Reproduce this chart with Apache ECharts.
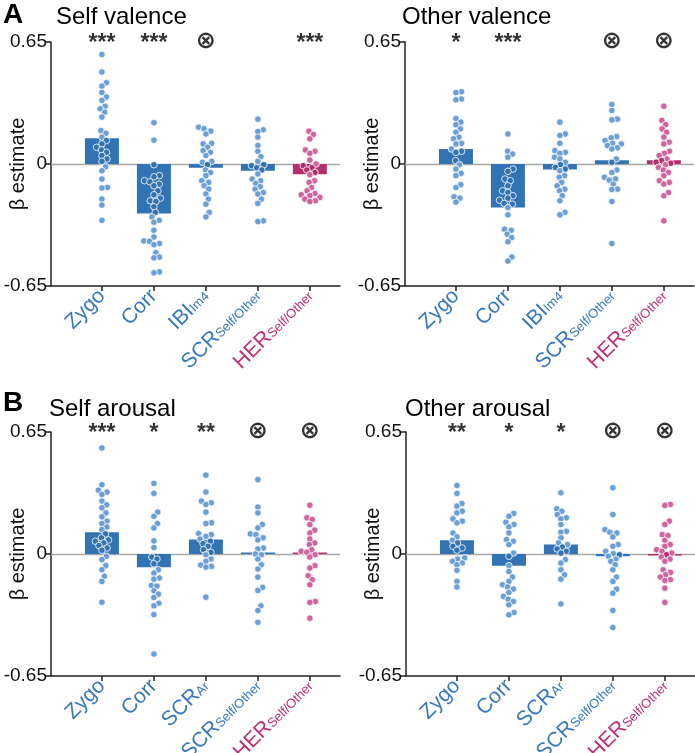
<!DOCTYPE html>
<html><head><meta charset="utf-8">
<script src="https://cdn.jsdelivr.net/npm/echarts@6/dist/echarts.min.js"></script>
<style>html,body{margin:0;padding:0;background:#fff}#c{width:695px;height:753px}</style>
</head><body><div id="c"></div>
<script>
// ---------------- DATA ----------------
const categoriesValence = ['Zygo', 'Corr', 'IBI_Im4', 'SCR_Self/Other', 'HER_Self/Other'];
const categoriesArousal = ['Zygo', 'Corr', 'SCR_Ar', 'SCR_Self/Other', 'HER_Self/Other'];
const yTicks = [-0.65, 0, 0.65];

const selfValenceMeans = [0.137, -0.264, -0.02, -0.036, -0.055];
const otherValenceMeans = [0.08, -0.232, -0.029, 0.02, 0.02];
const selfArousalMeans = [0.116, -0.071, 0.077, 0.007, 0.0];
const otherArousalMeans = [0.073, -0.062, 0.05, -0.012, -0.005];

const selfValenceSig = ['***', '***', '⊗', '', '***'];
const otherValenceSig = ['*', '***', '', '⊗', '⊗'];
const selfArousalSig = ['***', '*', '**', '⊗', '⊗'];
const otherArousalSig = ['**', '*', '*', '⊗', '⊗'];

const selfValencePoints = [
  [0.583, 0.49, 0.433, 0.415, 0.381, 0.357, 0.339, 0.308, 0.294, 0.276, 0.25, 0.178, 0.164, 0.143, 0.125, 0.107, 0.089, 0.075, 0.062, 0.045, 0.027, 0.014, -0.014, -0.036, -0.08, -0.125, -0.128, -0.187, -0.219, -0.3],
  [0.22, 0.127, -0.004, -0.062, -0.068, -0.089, -0.095, -0.107, -0.116, -0.143, -0.164, -0.182, -0.196, -0.2, -0.228, -0.258, -0.282, -0.3, -0.31, -0.353, -0.389, -0.41, -0.412, -0.424, -0.43, -0.472, -0.496, -0.5, -0.575, -0.58],
  [0.196, 0.188, 0.175, 0.16, 0.11, 0.107, 0.089, 0.071, 0.062, 0.045, 0.014, 0.009, -0.004, -0.032, -0.045, -0.062, -0.089, -0.098, -0.116, -0.134, -0.16, -0.187, -0.214, -0.258, -0.282],
  [0.239, 0.182, 0.173, 0.143, 0.098, 0.068, 0.039, 0.014, -0.004, -0.009, -0.02, -0.032, -0.053, -0.08, -0.089, -0.103, -0.121, -0.134, -0.152, -0.16, -0.187, -0.21, -0.303, -0.307],
  [0.175, 0.157, 0.134, 0.075, 0.068, 0.057, 0.021, 0.0, -0.009, -0.02, -0.032, -0.045, -0.057, -0.089, -0.098, -0.125, -0.143, -0.157, -0.164, -0.169, -0.178, -0.187, -0.196, -0.2]
];
const otherValencePoints = [
  [0.385, 0.381, 0.346, 0.342, 0.242, 0.223, 0.209, 0.187, 0.169, 0.143, 0.134, 0.11, 0.107, 0.08, 0.068, 0.062, 0.018, -0.004, -0.027, -0.05, -0.062, -0.11, -0.125, -0.175, -0.182, -0.203],
  [0.16, 0.068, 0.053, 0.036, -0.027, -0.039, -0.08, -0.089, -0.116, -0.143, -0.152, -0.169, -0.182, -0.193, -0.21, -0.214, -0.232, -0.271, -0.348, -0.353, -0.374, -0.392, -0.414, -0.496, -0.517],
  [0.223, 0.16, 0.152, 0.11, 0.071, 0.062, 0.057, 0.036, 0.027, 0.009, -0.004, -0.018, -0.027, -0.036, -0.062, -0.071, -0.098, -0.116, -0.134, -0.143, -0.169, -0.196, -0.258, -0.271],
  [0.317, 0.285, 0.239, 0.235, 0.146, 0.139, 0.125, 0.11, 0.107, 0.098, 0.086, 0.08, 0.027, 0.009, -0.032, -0.045, -0.071, -0.08, -0.086, -0.107, -0.134, -0.136, -0.2, -0.424],
  [0.308, 0.232, 0.21, 0.187, 0.169, 0.143, 0.116, 0.107, 0.068, 0.057, 0.045, 0.027, 0.018, 0.009, 0.004, -0.004, -0.018, -0.032, -0.045, -0.062, -0.089, -0.098, -0.107, -0.152, -0.169, -0.303]
];
const selfArousalPoints = [
  [0.565, 0.369, 0.34, 0.33, 0.317, 0.282, 0.262, 0.246, 0.219, 0.198, 0.175, 0.162, 0.144, 0.13, 0.107, 0.086, 0.075, 0.068, 0.059, 0.045, 0.032, 0.02, -0.012, -0.03, -0.062, -0.084, -0.119, -0.146, -0.257],
  [0.376, 0.323, 0.223, 0.201, 0.162, 0.139, 0.07, 0.034, -0.016, -0.027, -0.052, -0.084, -0.102, -0.128, -0.134, -0.168, -0.171, -0.196, -0.214, -0.232, -0.262, -0.276, -0.323, -0.533],
  [0.42, 0.33, 0.282, 0.273, 0.264, 0.223, 0.166, 0.162, 0.109, 0.103, 0.094, 0.08, 0.068, 0.055, 0.041, 0.023, 0.009, -0.004, -0.027, -0.039, -0.059, -0.066, -0.07, -0.23],
  [0.396, 0.25, 0.219, 0.157, 0.139, 0.107, 0.103, 0.086, 0.075, 0.032, 0.027, 0.0, -0.004, -0.027, -0.057, -0.08, -0.123, -0.178, -0.194, -0.276, -0.301, -0.364],
  [0.26, 0.193, 0.184, 0.157, 0.127, 0.112, 0.08, 0.059, 0.05, 0.023, 0.014, 0.009, -0.004, -0.016, -0.062, -0.075, -0.116, -0.137, -0.164, -0.253, -0.258, -0.342]
];
const otherArousalPoints = [
  [0.365, 0.323, 0.269, 0.255, 0.228, 0.219, 0.187, 0.175, 0.166, 0.112, 0.091, 0.073, 0.059, 0.041, 0.032, 0.02, -0.021, -0.027, -0.039, -0.048, -0.057, -0.087, -0.146, -0.176],
  [0.216, 0.201, 0.169, 0.157, 0.144, 0.112, 0.077, 0.068, 0.05, 0.005, -0.012, -0.062, -0.093, -0.123, -0.146, -0.164, -0.176, -0.187, -0.205, -0.226, -0.241, -0.253, -0.271, -0.312, -0.324],
  [0.326, 0.241, 0.228, 0.21, 0.193, 0.187, 0.157, 0.121, 0.116, 0.086, 0.059, 0.05, 0.037, 0.027, 0.014, 0.005, -0.03, -0.048, -0.084, -0.111, -0.134, -0.266],
  [0.353, 0.21, 0.13, 0.116, 0.112, 0.091, 0.05, 0.041, 0.014, 0.002, -0.004, -0.012, -0.027, -0.039, -0.057, -0.084, -0.123, -0.146, -0.187, -0.209, -0.301, -0.392],
  [0.264, 0.259, 0.175, 0.157, 0.103, 0.098, 0.073, 0.05, 0.041, 0.023, 0.014, 0.005, -0.004, -0.016, -0.027, -0.039, -0.084, -0.098, -0.111, -0.123, -0.137, -0.141, -0.182, -0.258]
];

// ---------------- STYLE ----------------
const FONT = "'Liberation Sans', Arial, Helvetica, sans-serif";
const barBlue = '#3273B4', barMag = '#B3306F';
const ptBlue = '#6B9FD5', ptMag = '#D0649D';
const labBlue = '#3878BE', labMag = '#BE2F78';
const PX_Y = 187.7, PX_X = 52, HALF_BAR = 0.327;

const panels = [
  {left: 51, top: 42, cats: categoriesValence, means: selfValenceMeans, pts: selfValencePoints, sig: selfValenceSig},
  {left: 405, top: 42, cats: categoriesValence, means: otherValenceMeans, pts: otherValencePoints, sig: otherValenceSig},
  {left: 51, top: 432, cats: categoriesArousal, means: selfArousalMeans, pts: selfArousalPoints, sig: selfArousalSig},
  {left: 406, top: 432, cats: categoriesArousal, means: otherArousalMeans, pts: otherArousalPoints, sig: otherArousalSig}
];

function swarm(vals, diam) {
  const order = vals.map((v, i) => i).sort((a, b) => vals[a] - vals[b]);
  const placed = [], xs = new Array(vals.length);
  for (const i of order) {
    const y = vals[i] * PX_Y;
    const near = placed.filter(p => Math.abs(p.y - y) < diam);
    const cands = [0];
    near.forEach(p => { const dx = Math.sqrt(diam * diam - (p.y - y) ** 2); cands.push(p.x + dx, p.x - dx); });
    cands.sort((a, b) => Math.abs(a) - Math.abs(b));
    let chosen = 0;
    for (const c of cands) {
      if (near.every(p => (p.x - c) ** 2 + (p.y - y) ** 2 >= diam * diam - 1e-6)) { chosen = c; break; }
    }
    placed.push({x: chosen, y}); xs[i] = chosen;
  }
  return xs;
}

function catLabel(c) {
  const parts = c.split('_');
  const mag = parts[0] === 'HER';
  const m = mag ? 'mm' : 'mb', s = mag ? 'sm' : 'sb';
  return '{' + m + '|' + parts[0] + '}' + (parts[1] ? '{' + s + '|' + parts[1] + '}' : '');
}
const rich = {
  mb: {fontSize: 21, color: labBlue, fontFamily: FONT, lineHeight: 21, verticalAlign: 'top'},
  mm: {fontSize: 21, color: labMag, fontFamily: FONT, lineHeight: 21, verticalAlign: 'top'},
  sb: {fontSize: 13, color: labBlue, fontFamily: FONT, lineHeight: 13, padding: [6, 0, 0, 0], verticalAlign: 'top'},
  sm: {fontSize: 13, color: labMag, fontFamily: FONT, lineHeight: 13, padding: [6, 0, 0, 0], verticalAlign: 'top'}
};

const option = {
  animation: false,
  backgroundColor: '#fff',
  grid: panels.map(p => ({left: p.left, top: p.top, width: 289, height: 244, containLabel: false, outerBoundsMode: 'none'})),
  xAxis: panels.map((p, k) => ({
    type: 'value', gridIndex: k, min: -0.98, max: 4.58,
    axisLine: {show: true, onZero: false, lineStyle: {color: '#222', width: 1.5}},
    axisTick: {show: true, length: 5, customValues: [0, 1, 2, 3, 4], lineStyle: {color: '#222', width: 1.5}},
    axisLabel: {show: true, customValues: [0, 1, 2, 3, 4], rotate: 45, margin: 7, align: 'right', verticalAlign: 'middle',
      formatter: v => catLabel(p.cats[Math.round(v)]), rich: rich},
    splitLine: {show: false}
  })),
  yAxis: panels.map((p, k) => ({
    type: 'value', gridIndex: k, min: yTicks[0], max: yTicks[2], interval: 0.65,
    axisLine: {show: true, onZero: false, lineStyle: {color: '#222', width: 1.5}},
    axisTick: {show: true, length: 5, lineStyle: {color: '#222', width: 1.5}},
    axisLabel: {fontSize: 19, color: '#111', fontFamily: FONT, margin: 4,
      formatter: v => Math.abs(v) < 1e-9 ? '0' : v.toFixed(2)},
    splitLine: {show: false},
    name: 'β estimate', nameLocation: 'middle', nameGap: 23, nameMoveOverlap: false,
    nameTextStyle: {fontSize: 20, color: '#111', fontFamily: FONT}
  })),
  graphic: [
    {type: 'text', x: 3, y: 15, style: {text: 'A', font: 'bold 28px ' + FONT, fill: '#000', verticalAlign: 'middle'}},
    {type: 'text', x: 56, y: 17, style: {text: 'Self valence', font: '24px ' + FONT, fill: '#000', verticalAlign: 'middle'}},
    {type: 'text', x: 402, y: 17, style: {text: 'Other valence', font: '24px ' + FONT, fill: '#000', verticalAlign: 'middle'}},
    {type: 'text', x: 3, y: 403, style: {text: 'B', font: 'bold 28px ' + FONT, fill: '#000', verticalAlign: 'middle'}},
    {type: 'text', x: 49, y: 409, style: {text: 'Self arousal', font: '24px ' + FONT, fill: '#000', verticalAlign: 'middle'}},
    {type: 'text', x: 405, y: 409, style: {text: 'Other arousal', font: '24px ' + FONT, fill: '#000', verticalAlign: 'middle'}}
  ],
  series: []
};

panels.forEach((p, k) => {
  option.series.push({
    type: 'custom', xAxisIndex: k, yAxisIndex: k, z: 2,
    data: p.means.map((m, i) => [i, m]),
    encode: {x: 0, y: 1},
    renderItem: (params, api) => {
      const i = api.value(0), m = api.value(1);
      const a = api.coord([i - HALF_BAR, m]), b = api.coord([i + HALF_BAR, 0]);
      const h = Math.max(Math.abs(b[1] - a[1]), 1.6);
      const y = m >= 0 ? b[1] - h : b[1];
      return {type: 'rect', shape: {x: a[0], y: y, width: b[0] - a[0], height: h},
        style: {fill: i === 4 ? barMag : barBlue}};
    },
    markLine: {silent: true, symbol: 'none', label: {show: false},
      lineStyle: {color: '#a8a8a8', width: 1.3, type: 'solid'}, data: [{yAxis: 0}], z: 1}
  });
  const data = [];
  p.pts.forEach((vals, i) => {
    const xs = swarm(vals, 5.6);
    const m = p.means[i];
    vals.forEach((v, j) => {
      const inBar = Math.abs(xs[j]) < HALF_BAR * PX_X - 2 && ((m > 0 && v > 0 && v < m) || (m < 0 && v < 0 && v > m));
      const col = inBar ? (i === 4 ? barMag : barBlue) : (i === 4 ? ptMag : ptBlue);
      data.push({value: [i + xs[j] / PX_X, v], itemStyle: {color: col}});
    });
  });
  option.series.push({
    type: 'scatter', xAxisIndex: k, yAxisIndex: k, z: 3, symbolSize: 6.6,
    itemStyle: {borderColor: '#fff', borderWidth: 0.8, opacity: 1},
    data: data
  });
  option.series.push({
    type: 'scatter', xAxisIndex: k, yAxisIndex: k, z: 4, symbolSize: 0, silent: true,
    data: p.sig.map((s, i) => ({
      value: [i, yTicks[2]],
      label: s === '⊗'
        ? {show: true, position: 'inside', formatter: s, fontSize: 24, fontWeight: 'bold', fontFamily: "'DejaVu Sans', sans-serif", color: '#000', offset: [0, 0]}
        : {show: true, position: 'inside', formatter: s, fontSize: 23, fontWeight: 'bold', fontFamily: FONT, color: '#000', offset: [0, 2]}
    })).filter(d => d.label.formatter !== '')
  });
});

const chart = echarts.init(document.getElementById('c'), null, {renderer: 'canvas'});
chart.setOption(option);
</script>
</body></html>
